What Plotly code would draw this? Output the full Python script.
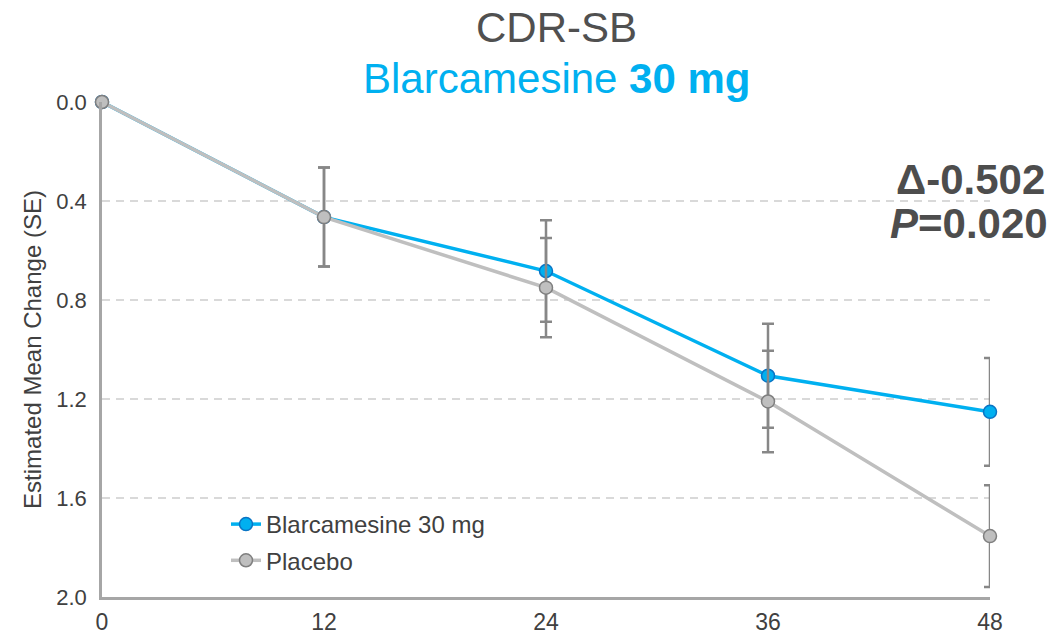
import plotly.graph_objects as go

# Weeks of treatment
weeks = [0, 12, 24, 36, 48]

# Estimated mean change from baseline in CDR-SB and standard errors
blarcamesine_mean = [0.0, 0.465, 0.683, 1.106, 1.252]
blarcamesine_se = [None, 0.20, 0.205, 0.21, 0.218]
placebo_mean = [0.0, 0.465, 0.750, 1.210, 1.754]
placebo_se = [None, 0.20, 0.201, 0.205, 0.206]

y_ticks = [0.0, 0.4, 0.8, 1.2, 1.6, 2.0]
y_tick_text = ["0.0", "0.4", "0.8", "1.2", "1.6", "2.0"]

BLUE = "#00b0f0"
BLUE_EDGE = "#0a74c4"
GRAY = "#bfbfbf"
GRAY_EDGE = "#7f7f7f"
ERR = "#878787"
TEXT = "#404040"
FONT = "Liberation Sans, Arial, sans-serif"

fig = go.Figure()

fig.add_trace(go.Scatter(
    x=weeks, y=blarcamesine_mean, name="Blarcamesine 30 mg",
    mode="lines+markers", legendgroup="a",
    line=dict(color=BLUE, width=3.5),
    marker=dict(size=13, color=BLUE, line=dict(color=BLUE_EDGE, width=1.5)),
    error_y=dict(type="data", array=blarcamesine_se, color=ERR, thickness=2.5, width=6),
    cliponaxis=False,
))
fig.add_trace(go.Scatter(
    x=weeks, y=placebo_mean, name="Placebo",
    mode="lines+markers", legendgroup="b",
    line=dict(color=GRAY, width=3.5),
    marker=dict(size=13, color=GRAY, line=dict(color=GRAY_EDGE, width=1.5)),
    error_y=dict(type="data", array=placebo_se, color=ERR, thickness=2.5, width=6),
    cliponaxis=False,
))

fig.update_layout(
    width=1058, height=637,
    margin=dict(l=102, r=68, t=102, b=40, autoexpand=False),
    paper_bgcolor="white", plot_bgcolor="white",
    font=dict(family=FONT, color=TEXT, size=22),
    showlegend=True,
    legend=dict(
        x=(226 - 102) / 888, y=1 - (502 - 102) / 495, xanchor="left", yanchor="top",
        traceorder="grouped", tracegroupgap=2,
        font=dict(size=24, color=TEXT), bgcolor="rgba(0,0,0,0)",
    ),
    xaxis=dict(
        range=[0, 48], tickvals=weeks, ticktext=[str(w) for w in weeks],
        showline=True, linecolor="#a6a6a6", linewidth=2.5,
        showgrid=False, zeroline=False, ticks="", automargin=False,
        tickfont=dict(size=23, color=TEXT), ticklabelstandoff=3,
    ),
    yaxis=dict(
        range=[2.0, 0.0], tickvals=y_ticks, ticktext=y_tick_text,
        showline=True, linecolor="#a6a6a6", linewidth=2.5,
        showgrid=True, gridcolor="#d9d9d9", gridwidth=1.5, griddash="8px,6px",
        zeroline=False, ticks="", automargin=False,
        tickfont=dict(size=22, color=TEXT), ticklabelstandoff=8,
        title=dict(text="Estimated Mean Change (SE)", font=dict(size=24, color=TEXT), standoff=8),
    ),
    annotations=[
        dict(text="CDR-SB", xref="paper", yref="paper",
             x=(556 - 102) / 888, y=1 + (102 - 28) / 495, xanchor="center", yanchor="middle",
             showarrow=False, font=dict(size=42, color="#505050")),
        dict(text="Blarcamesine <b>30 mg</b>", xref="paper", yref="paper",
             x=(557 - 102) / 888, y=1 + (102 - 79) / 495, xanchor="center", yanchor="middle",
             showarrow=False, font=dict(size=42, color=BLUE)),
        dict(text="<b>Δ-0.502</b>", xref="paper", yref="paper",
             x=(1047 - 102) / 888, y=1 - (179 - 102) / 495, xanchor="right", yanchor="middle",
             showarrow=False, font=dict(size=42, color="#4d4d4d")),
        dict(text="<b><i>P</i>=0.020</b>", xref="paper", yref="paper",
             x=(1050 - 102) / 888, y=1 - (223 - 102) / 495, xanchor="right", yanchor="middle",
             showarrow=False, font=dict(size=42, color="#4d4d4d")),
    ],
)

fig.write_html("out.html")
